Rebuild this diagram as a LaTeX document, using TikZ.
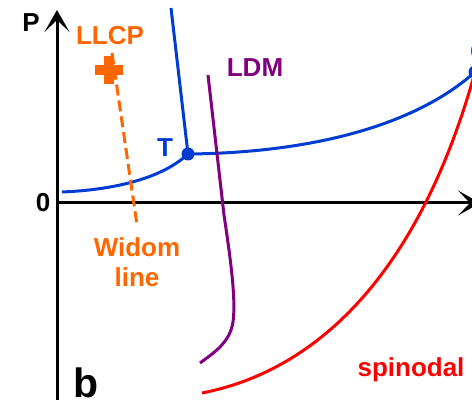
\documentclass[tikz,border=0pt]{standalone}
\usepackage{fontspec}
\setmainfont{Liberation Sans}
\usepackage{xcolor}
\definecolor{llcp}{RGB}{255,102,0}
\definecolor{coex}{RGB}{0,60,210}
\definecolor{ldm}{RGB}{128,0,128}
\definecolor{spin}{RGB}{255,0,0}
\usetikzlibrary{arrows.meta,positioning}
\tikzset{
  axis/.style={line width=3pt,-{Stealth[length=22pt,width=25pt,inset=12pt]}},
  tag/.style={font=\fontsize{26}{30}\selectfont\bfseries,inner sep=0pt,align=center},
  curve/.style={line width=3pt},
  widom/.style={curve,draw=llcp,dash pattern=on 11pt off 5pt},
}

\begin{document}
\begin{tikzpicture}[x=1pt,y=-1pt]
\useasboundingbox (0,0) rectangle (472,406);
\clip (0,0) rectangle (472,406);
% axes
\coordinate (O) at (57,203);
\coordinate (ytop) at (57,10);
\coordinate (ybot) at (57,400);
\coordinate (xend) at (480,203);
\draw[axis] (ybot) -- (ytop);
\draw[axis] (O) -- (xend);
\node[tag,anchor=base] (plbl) at (31,32) {P};
\node[tag,anchor=base] (zero) at (43,212) {0};
\node[tag,anchor=base,font=\fontsize{41}{44}\selectfont\bfseries] (panel) at (86,398) {b};
% coexistence line and points
\coordinate (T) at (188,154);
\coordinate (C) at (475,72);
\coordinate (vtop) at (171,8);
\coordinate (vleft) at (62,192);
\draw[curve,coex] (vtop) -- (T);
\draw[curve,coex] (vleft) .. controls (110,190) and (160,180) .. (T);
\draw[curve,coex] (T) .. controls (300,153) and (410,130) .. (C);
\fill[coex] (T) circle (6.5pt);
\fill[coex] (C) circle (6.5pt);
\node[tag,anchor=base,text=coex] (tlbl) at (165,157) {T};
\node[tag,anchor=base west,text=coex] (clbl) at (470,61) {C};
% LLCP and Widom line
\coordinate (cp) at (109,70);
\coordinate (wend) at (137,225);
\draw[llcp,line width=10pt] ([xshift=-14pt]cp) -- ([xshift=14pt]cp);
\draw[llcp,line width=10pt] ([yshift=-14pt]cp) -- ([yshift=14pt]cp);
\draw[widom] ([xshift=3pt,yshift=17pt]cp) -- (wend);
\node[tag,anchor=base,text=llcp] (llcplbl) at (110,45) {LLCP};
\node[tag,text=llcp,below=12pt of wend] (wlbl) {Widom\\line};
% LDM
\coordinate (ltop) at (208,75);
\coordinate (lbot) at (200,363);
\draw[curve,ldm] (ltop) -- (224,215) .. controls (231,262) and (236,300) .. (233,322)
  .. controls (230,342) and (215,352) .. (lbot);
\node[tag,anchor=base,text=ldm] (ldmlbl) at (255,77) {LDM};
% spinodal
\coordinate (sbot) at (202,393);
\draw[curve,spin] (sbot) .. controls (320,370) and (420,270) .. (C);
\node[tag,anchor=base,text=spin] (slbl) at (411,377) {spinodal};
\end{tikzpicture}
\end{document}
